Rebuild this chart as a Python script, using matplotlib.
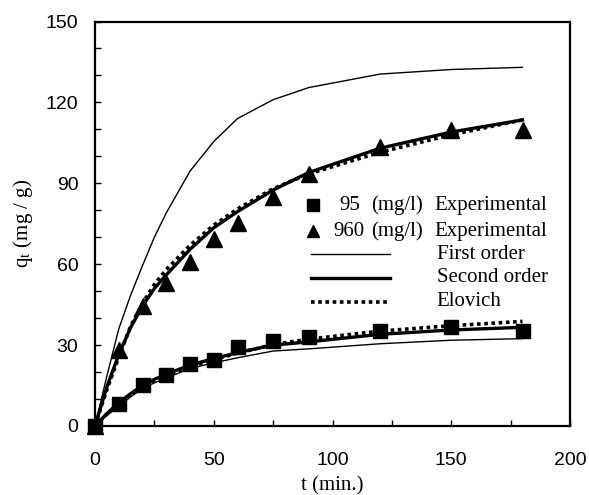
import matplotlib
matplotlib.use("Agg")
import matplotlib.pyplot as plt
from matplotlib.ticker import MultipleLocator

# Contact time (min) of the measurements
t = [0, 10, 20, 30, 40, 50, 60, 75, 90, 120, 150, 180]

# Experimental uptake q_t (mg/g)
q_95 = [0, 8.2, 15.2, 18.8, 23.0, 24.4, 29.4, 31.6, 33.0, 35.4, 36.6, 35.2]
q_960 = [0, 28.2, 44.5, 52.9, 60.9, 69.2, 75.3, 85.0, 93.5, 103.3, 109.8, 109.8]

# Contact time (min) of the kinetic model curves
t_fit = [0, 5, 10, 15, 20, 25, 30, 40, 50, 60, 75, 90, 120, 150, 180]

# Kinetic model fits (mg/g)
first_95 = [0, 3.9, 7.2, 10.8, 13.8, 16.0, 17.8, 21.3, 23.4, 25.3, 27.8,
            28.6, 30.5, 31.8, 32.4]
second_95 = [0, 4.6, 8.6, 12.0, 15.0, 17.3, 19.2, 22.6, 25.0, 27.2, 30.0,
             31.2, 34.0, 35.6, 36.6]
elovich_95 = [0, 4.4, 8.0, 11.6, 14.6, 16.8, 18.6, 22.0, 24.6, 27.0, 30.2,
              32.2, 35.2, 37.2, 38.8]

first_960 = [0, 18.5, 36.0, 48.5, 59.5, 70.0, 79.0, 94.5, 105.5, 114.0,
             121.0, 125.5, 130.5, 132.2, 133.0]
second_960 = [0, 14.5, 26.5, 36.5, 44.5, 51.0, 56.0, 65.5, 73.5, 79.5,
              87.5, 94.0, 103.0, 109.0, 113.5]
elovich_960 = [0, 13.5, 25.5, 37.0, 45.5, 52.5, 58.0, 67.0, 74.5, 80.5,
               88.0, 93.5, 101.5, 108.0, 113.5]

serif = "Liberation Serif"
sans = "Liberation Sans"
plt.rcParams["mathtext.fontset"] = "stix"

fig = plt.figure(figsize=(5.89, 4.95), dpi=100)
ax = fig.add_axes([95 / 589, 1 - 426 / 495, 475 / 589, 404.5 / 495])

thin = dict(color="black", lw=1.0, zorder=2)
thick = dict(color="black", lw=2.4, zorder=3)
dots = dict(color="black", lw=2.6, ls=(0, (1.0, 1.0)), zorder=3)

for first, second, elov in [(first_95, second_95, elovich_95),
                            (first_960, second_960, elovich_960)]:
    ax.plot(t_fit, first, **thin)
    ax.plot(t_fit, second, **thick)
    ax.plot(t_fit, elov, **dots)

ax.plot(t, q_95, ls="none", marker="s", ms=10.5, color="black", zorder=5,
        clip_on=False)
ax.plot(t, q_960, ls="none", marker="^", ms=11, color="black", zorder=5,
        clip_on=False)

ax.set_xlim(0, 200)
ax.set_ylim(0, 150)
ax.xaxis.set_major_locator(MultipleLocator(50))
ax.xaxis.set_minor_locator(MultipleLocator(25))
ax.yaxis.set_major_locator(MultipleLocator(30))
ax.yaxis.set_minor_locator(MultipleLocator(10))
ax.tick_params(which="both", direction="in", length=4, width=1.0)
ax.tick_params(axis="x", which="major", pad=19, labelsize=14)
ax.tick_params(axis="y", which="major", pad=12, labelsize=14)
for lab in ax.get_xticklabels() + ax.get_yticklabels():
    lab.set_fontfamily(sans)
for sp in ax.spines.values():
    sp.set_linewidth(1.6)

ax.set_xlabel("t (min.)", fontsize=15, family=serif, labelpad=5)
ax.set_ylabel(r"q$_{\rm t}$ (mg / g)", fontsize=15, family=serif, labelpad=8)

# Legend drawn in axes coordinates
tr = ax.transAxes
rows_y = [0.546, 0.482, 0.425, 0.366, 0.307]
ax.plot([0.459], [rows_y[0]], marker="s", ms=8, color="black", transform=tr)
ax.plot([0.459], [rows_y[1]], marker="^", ms=8.5, color="black", transform=tr)
ax.text(0.514, rows_y[0], "95", transform=tr, family=serif, fontsize=15,
        va="center", ha="left")
ax.text(0.501, rows_y[1], "960", transform=tr, family=serif, fontsize=15,
        va="center", ha="left")
for y in rows_y[:2]:
    ax.text(0.581, y, "(mg/l)", transform=tr, family=serif, fontsize=15,
            va="center", ha="left")
    ax.text(0.714, y, "Experimental", transform=tr, family=serif,
            fontsize=15, va="center", ha="left")
ax.plot([0.455, 0.621], [rows_y[2]] * 2, transform=tr, **thin)
ax.plot([0.455, 0.621], [rows_y[3]] * 2, transform=tr, **thick)
ax.plot([0.455, 0.621], [rows_y[4]] * 2, transform=tr, **dots)
for y, name, x in [(rows_y[2], "First order", 0.72),
                   (rows_y[3], "Second order", 0.72),
                   (rows_y[4], "Elovich", 0.718)]:
    ax.text(x, y, name, transform=tr, family=serif, fontsize=15,
            va="center", ha="left")

fig.savefig("out.png", dpi=100)
